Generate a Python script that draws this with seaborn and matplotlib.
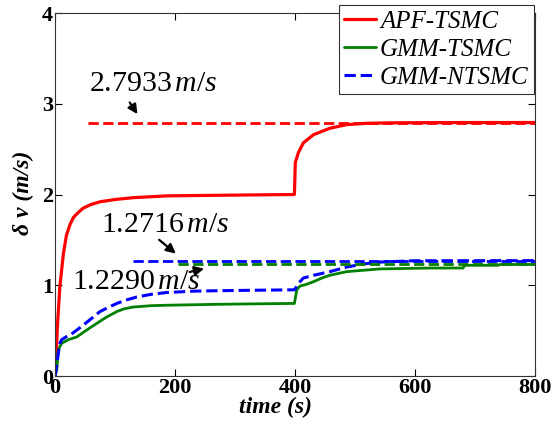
import seaborn as sns
import matplotlib.pyplot as plt
import pandas as pd

# APF-TSMC response
t_apf = [0, 2, 4, 8, 14, 19, 25, 31, 40, 47, 60, 75, 100, 130, 186, 250, 320, 399,
         400.5, 405.5, 414, 431, 458, 486, 520, 560, 650, 800]
v_apf = [0, 0.25, 0.55, 0.98, 1.35, 1.55, 1.67, 1.75, 1.81, 1.85, 1.89, 1.92, 1.945, 1.965, 1.985, 1.99, 1.995, 2.0,
         2.35, 2.46, 2.57, 2.66, 2.73, 2.77, 2.785, 2.79, 2.793, 2.7933]

# GMM-TSMC response
t_tsmc = [0, 3, 5.5, 11, 22, 36, 47, 58, 72, 86, 103, 115, 130, 160, 186, 270, 330, 399,
          403, 408, 419, 431, 445, 458, 486, 541, 625, 680, 683, 738, 742, 800]
v_tsmc = [0, 0.07, 0.29, 0.36, 0.40, 0.43, 0.48, 0.53, 0.59, 0.65, 0.71, 0.74, 0.76, 0.775, 0.78, 0.79, 0.795, 0.80,
          0.95, 0.99, 1.01, 1.04, 1.08, 1.11, 1.15, 1.18, 1.19, 1.19, 1.22, 1.22, 1.229, 1.229]

# GMM-NTSMC response
t_ntsmc = [0, 3, 5.5, 8, 11, 18, 25, 35, 47, 60, 75, 90, 103, 120, 136, 160, 186, 230, 270, 330, 399,
           402, 405.5, 414, 431, 458, 486, 514, 541, 597, 800]
v_ntsmc = [0, 0.12, 0.25, 0.36, 0.40, 0.43, 0.45, 0.50, 0.56, 0.63, 0.71, 0.76, 0.80, 0.84, 0.87, 0.90, 0.92, 0.935, 0.94, 0.945, 0.95,
           0.98, 1.02, 1.08, 1.11, 1.15, 1.20, 1.235, 1.255, 1.27, 1.2716]

# steady-state reference levels (value, start time)
ref_apf = [2.7933, 55]
ref_ntsmc = [1.2716, 130]
ref_tsmc = [1.2290, 205]

xticks = [0, 200, 400, 600, 800]
yticks = [0, 1, 2, 3, 4]

sns.set_style("ticks")
plt.rcParams['font.family'] = ['Liberation Serif', 'DejaVu Serif']
plt.rcParams['mathtext.fontset'] = 'custom'
plt.rcParams['mathtext.rm'] = 'Liberation Serif'
plt.rcParams['mathtext.it'] = 'Liberation Serif:italic'
plt.rcParams['text.color'] = 'black'
plt.rcParams['axes.labelcolor'] = 'black'
plt.rcParams['xtick.color'] = 'black'
plt.rcParams['ytick.color'] = 'black'

fig = plt.figure(figsize=(5.54, 4.34), dpi=100)
ax = fig.add_axes([0.0993, 0.1336, 0.8664, 0.8364])

df_apf = pd.DataFrame({"t": t_apf, "v": v_apf})
df_tsmc = pd.DataFrame({"t": t_tsmc, "v": v_tsmc})
df_ntsmc = pd.DataFrame({"t": t_ntsmc, "v": v_ntsmc})

sns.lineplot(data=df_apf, x="t", y="v", color="red", lw=2.3, label="APF-TSMC", ax=ax)
sns.lineplot(data=df_tsmc, x="t", y="v", color="green", lw=2.0, label="GMM-TSMC", ax=ax)
sns.lineplot(data=df_ntsmc, x="t", y="v", color="blue", lw=2.2, ls="--", label="GMM-NTSMC", ax=ax)

# reference lines
ax.plot([ref_apf[1], 800], [ref_apf[0], ref_apf[0]], color="red", lw=2.0, ls="--")
ax.plot([ref_ntsmc[1], 800], [ref_ntsmc[0], ref_ntsmc[0]], color="blue", lw=2.0, ls="--")
ax.plot([ref_tsmc[1], 800], [ref_tsmc[0], ref_tsmc[0]], color="green", lw=2.0, ls="--")

# annotations
arrow = dict(arrowstyle="-|>", color="black", lw=1.6, mutation_scale=14)
ax.text(57, 3.22, r"2.7933$\,\mathit{m/s}$", fontsize=21.5, ha="left", va="center")
ax.annotate("", xy=(140, 2.86), xytext=(122, 3.04), arrowprops=arrow)
ax.text(77, 1.66, r"1.2716$\,\mathit{m/s}$", fontsize=21.5, ha="left", va="center")
ax.annotate("", xy=(205, 1.33), xytext=(170, 1.52), arrowprops=arrow)
ax.text(29, 1.04, r"1.2290$\,\mathit{m/s}$", fontsize=21.5, ha="left", va="center")
ax.annotate("", xy=(253, 1.19), xytext=(220, 1.14), arrowprops=arrow)

ax.set_xlim(0, 800)
ax.set_ylim(0, 4)
ax.set_xticks(xticks, labels=[str(x) for x in xticks], fontweight="bold", fontsize=16)
ax.set_yticks(yticks, labels=[str(y) for y in yticks], fontweight="bold", fontsize=16)
ax.tick_params(direction="in", top=True, right=True, length=5, width=0.8, pad=1.5)
for s in ax.spines.values():
    s.set_linewidth(0.8)
    s.set_color("#333333")

ax.set_xlabel("time (s)", fontsize=17, fontweight="bold", fontstyle="italic")
ax.set_ylabel("δ v (m/s)", fontsize=17, fontweight="bold", fontstyle="italic")
ax.xaxis.set_label_coords(0.46, -0.058)
ax.yaxis.set_label_coords(-0.044, 0.504)

leg = ax.legend(loc="upper right", bbox_to_anchor=(0.997, 1.022), borderaxespad=0,
                fancybox=False, edgecolor="#333333", framealpha=1,
                handlelength=1.3, handletextpad=0.15, labelspacing=0.22, borderpad=0.2,
                prop={"style": "italic", "size": 18})
leg.get_frame().set_linewidth(0.8)

fig.savefig("out.png", dpi=100)
